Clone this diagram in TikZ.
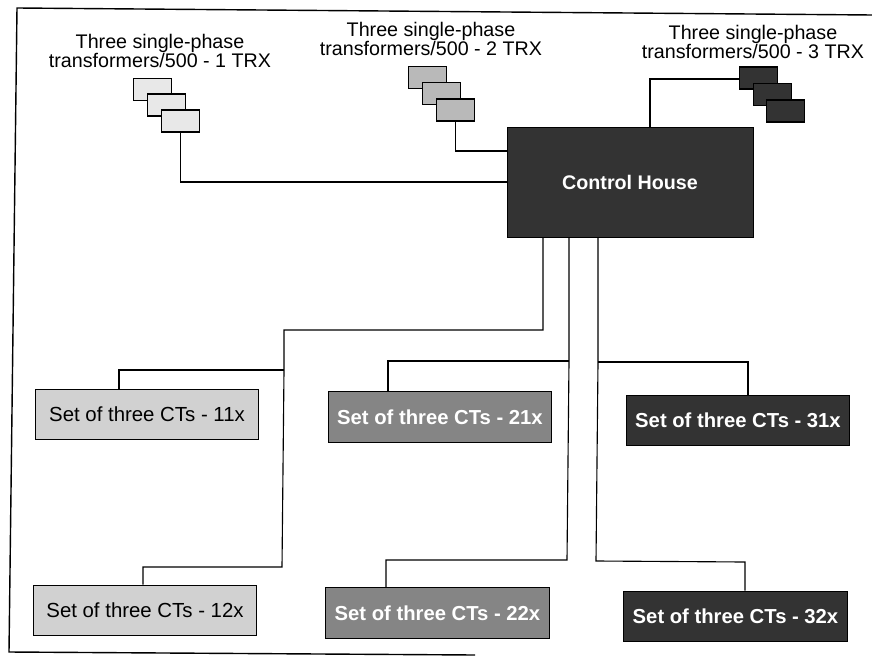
\documentclass[tikz,border=0pt]{standalone}
\usepackage{fontspec}
\setmainfont{Liberation Sans}
\usepackage{xcolor}
\usetikzlibrary{positioning,calc}
\definecolor{ctlight}{gray}{0.82}
\definecolor{ctmid}{gray}{0.52}
\definecolor{ctdark}{gray}{0.2}
\tikzset{
    wire/.style={line width=0.8pt, black},
    trxbox/.style={draw=black, line width=1.1pt, minimum width=0.95cm, minimum height=0.56cm, inner sep=0pt},
    ctbox/.style={draw=black, line width=0.7pt, minimum width=5.58cm, minimum height=1.27cm, inner sep=0pt, font=\fontsize{14.5}{16}\selectfont},
    ctboxdark/.style={ctbox, text=white, font=\fontsize{14.4}{16}\selectfont\bfseries},
    caption/.style={align=center, font=\fontsize{14}{14}\selectfont}
}
\begin{document}
\begin{tikzpicture}[x=0.025cm,y=-0.025cm]
    \useasboundingbox (0,0) rectangle (872,656);

    % Open frame (no right side)
    \coordinate (frameA) at (872,15);
    \coordinate (frameB) at (17,8);
    \coordinate (frameC) at (9,652);
    \coordinate (frameD) at (475,655);
    \draw[line width=1pt] (frameA) -- (frameB) -- (frameC) -- (frameD);

    % Transformer groups
    \node[caption] (lbla) at (160,51) {Three single-phase\\transformers/500 - 1 TRX};
    \node[caption] (lblb) at (431,39) {Three single-phase\\transformers/500 - 2 TRX};
    \node[caption] (lblc) at (753,42) {Three single-phase\\transformers/500 - 3 TRX};

    \node[trxbox, fill=gray!18] (trxa1) at (152.5,89.5) {};
    \node[trxbox, fill=gray!18] (trxa2) at (166.5,105) {};
    \node[trxbox, fill=gray!18] (trxa3) at (180.5,121) {};
    \node[trxbox, fill=gray!55] (trxb1) at (427.5,77.5) {};
    \node[trxbox, fill=gray!55] (trxb2) at (441.5,93.5) {};
    \node[trxbox, fill=gray!55] (trxb3) at (455.5,110) {};
    \node[trxbox, fill=ctdark] (trxc1) at (758.5,78) {};
    \node[trxbox, fill=ctdark] (trxc2) at (772.5,94.5) {};
    \node[trxbox, fill=ctdark] (trxc3) at (785.5,111) {};

    % Control house
    \node[draw=black, fill=ctdark, minimum width=6.15cm, minimum height=2.75cm, text=white,
          font=\fontsize{14}{16}\selectfont\bfseries] (house) at (630,182) {Control House};

    % Sets of CTs
    \node[ctbox, fill=ctlight] (ct11) at (147,414.5) {Set of three CTs - 11x};
    \node[ctbox, fill=ctlight] (ct12) at (145,610.5) {Set of three CTs - 12x};
    \node[ctboxdark, fill=ctmid] (ct21) at (440,417) {Set of three CTs - 21x};
    \node[ctboxdark, fill=ctmid] (ct22) at (437.5,613) {Set of three CTs - 22x};
    \node[ctboxdark, fill=ctdark] (ct31) at (738,420.5) {Set of three CTs - 31x};
    \node[ctboxdark, fill=ctdark] (ct32) at (735.5,616.5) {Set of three CTs - 32x};

    % Transformers to house
    \coordinate (turna) at (180.5,182);
    \coordinate (turnb) at (455.5,151);
    \coordinate (turnc) at (650,79);
    \draw[wire] (trxa3.south) -- (turna) -- (house.west |- turna);
    \draw[wire] (trxb3.south) -- (turnb) -- (house.west |- turnb);
    \draw[wire] (house.north -| turnc) -- (turnc) -- (trxc1.west |- turnc);

    % House to CTs, left run
    \coordinate (runa) at (543,330);
    \coordinate (runb) at (284,330);
    \coordinate (tapa) at (284,370);
    \coordinate (tapb) at (119,370);
    \coordinate (runc) at (282,567);
    \coordinate (tapc) at (143,567);
    \draw[wire] (house.south -| runa) -- (runa) -- (runb) -- (tapa) -- (runc) -- (tapc) -- (ct12.north -| tapc);
    \draw[wire] (tapa) -- (tapb) -- (ct11.north -| tapb);

    % Middle run
    \coordinate (rund) at (569,361);
    \coordinate (tapd) at (388,361);
    \coordinate (rune) at (567,560);
    \coordinate (tape) at (386,560);
    \draw[wire] (house.south -| rund) -- (rund) -- (rune) -- (tape) -- (ct22.north -| tape);
    \draw[wire] (rund) -- (tapd) -- (ct21.north -| tapd);

    % Right run
    \coordinate (runf) at (598,362);
    \coordinate (tapf) at (748,362);
    \coordinate (rung) at (596,561);
    \coordinate (tapg) at (745,562);
    \draw[wire] (house.south -| runf) -- (runf) -- (rung) -- (tapg) -- (ct32.north -| tapg);
    \draw[wire] (runf) -- (tapf) -- (ct31.north -| tapf);
\end{tikzpicture}
\end{document}
